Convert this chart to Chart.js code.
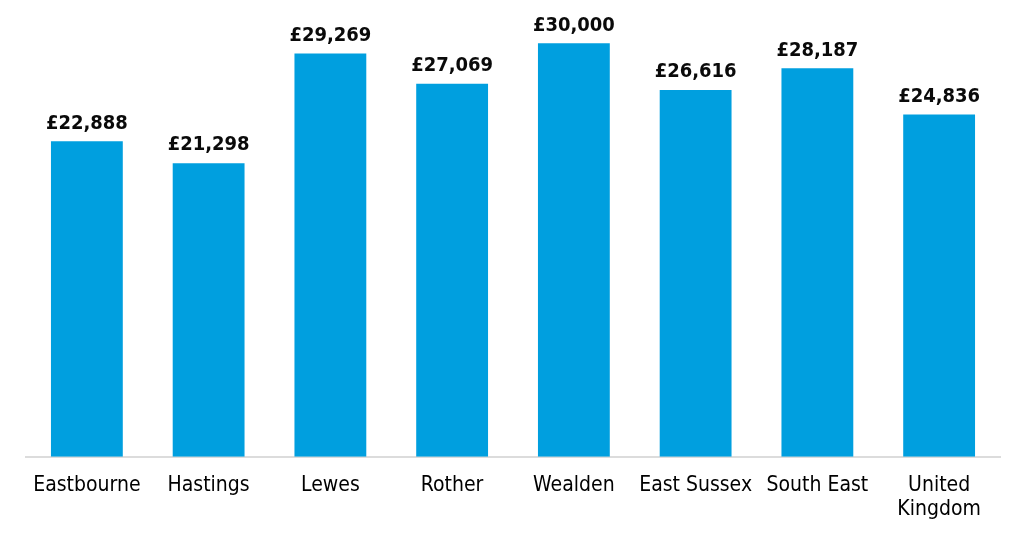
<!DOCTYPE html>
<html>
<head>
<meta charset="utf-8">
<script src="https://cdn.jsdelivr.net/npm/chart.js@4"></script>
<style>
  html, body { margin: 0; padding: 0; background: #ffffff; }
  #wrap { width: 1024px; height: 538px; }
</style>
</head>
<body>
<div id="wrap"><canvas id="c" width="1024" height="538"></canvas></div>
<script>
const categories = ["Eastbourne", "Hastings", "Lewes", "Rother", "Wealden", "East Sussex", "South East", ["United", "Kingdom"]];
const salaries = [22888, 21298, 29269, 27069, 30000, 26616, 28187, 24836];
const valueLabels = ["£22,888", "£21,298", "£29,269", "£27,069", "£30,000", "£26,616", "£28,187", "£24,836"];

const FONT = "'DejaVu Sans Condensed', 'DejaVu Sans', sans-serif";

const valueLabelPlugin = {
  id: 'valueLabels',
  afterDatasetsDraw(chart) {
    const ctx = chart.ctx;
    const meta = chart.getDatasetMeta(0);
    ctx.save();
    ctx.font = "bold 20px " + FONT;
    ctx.fillStyle = "#0a0a0a";
    ctx.textAlign = "center";
    ctx.textBaseline = "bottom";
    meta.data.forEach((bar, i) => {
      ctx.fillText(valueLabels[i], bar.x, bar.y - 8);
    });
    ctx.restore();
  }
};

new Chart(document.getElementById('c'), {
  type: 'bar',
  data: {
    labels: categories,
    datasets: [{
      data: salaries,
      backgroundColor: '#009FDF',
      borderWidth: 0,
      barPercentage: 0.59,
      categoryPercentage: 1.0
    }]
  },
  options: {
    responsive: false,
    animation: false,
    layout: { padding: { left: 26, right: 24, top: 2, bottom: 7 } },
    plugins: { legend: { display: false }, tooltip: { enabled: false } },
    scales: {
      y: { display: false, min: 0, max: 33000 },
      x: {
        grid: { display: false },
        border: { display: true, color: '#dcdcdc', width: 2 },
        ticks: {
          color: '#000000',
          font: { family: FONT, size: 21, lineHeight: 1.15 },
          padding: 9,
          maxRotation: 0,
          autoSkip: false
        }
      }
    }
  },
  plugins: [valueLabelPlugin]
});
</script>
</body>
</html>
